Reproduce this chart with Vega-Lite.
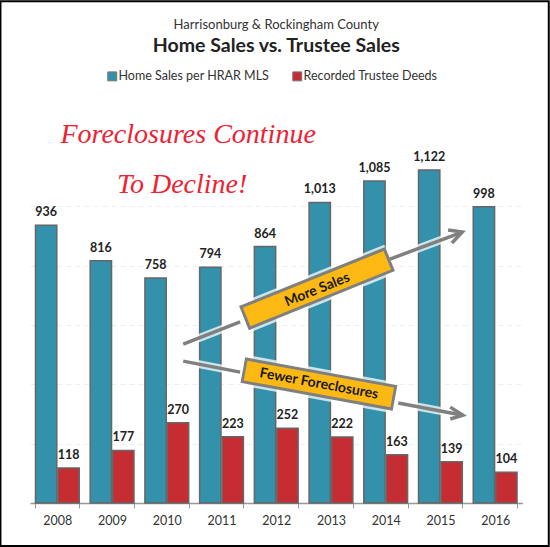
{
  "$schema": "https://vega.github.io/schema/vega-lite/v6.json",
  "width": 492.5,
  "height": 403,
  "autosize": "none",
  "padding": {"left": 30, "top": 100, "right": 27.5, "bottom": 44},
  "background": "white",
  "title": {
    "text": "Harrisonburg & Rockingham County",
    "subtitle": "Home Sales vs. Trustee Sales",
    "anchor": "middle",
    "frame": "group",
    "offset": -55,
    "font": "Lato",
    "fontSize": 13,
    "fontWeight": "normal",
    "color": "#333333",
    "subtitleFont": "Lato",
    "subtitleFontSize": 19.5,
    "subtitleFontWeight": "bold",
    "subtitleColor": "#222222",
    "subtitlePadding": 5
  },
  "config": {
    "view": {"stroke": null},
    "text": {"font": "Lato"},
    "legend": {"labelFont": "Lato"}
  },
  "datasets": {
    "sales": [
      {"year": "2008", "series": "Home Sales per HRAR MLS", "count": 936},
      {"year": "2009", "series": "Home Sales per HRAR MLS", "count": 816},
      {"year": "2010", "series": "Home Sales per HRAR MLS", "count": 758},
      {"year": "2011", "series": "Home Sales per HRAR MLS", "count": 794},
      {"year": "2012", "series": "Home Sales per HRAR MLS", "count": 864},
      {"year": "2013", "series": "Home Sales per HRAR MLS", "count": 1013},
      {"year": "2014", "series": "Home Sales per HRAR MLS", "count": 1085},
      {"year": "2015", "series": "Home Sales per HRAR MLS", "count": 1122},
      {"year": "2016", "series": "Home Sales per HRAR MLS", "count": 998},
      {"year": "2008", "series": "Recorded Trustee Deeds", "count": 118},
      {"year": "2009", "series": "Recorded Trustee Deeds", "count": 177},
      {"year": "2010", "series": "Recorded Trustee Deeds", "count": 270},
      {"year": "2011", "series": "Recorded Trustee Deeds", "count": 223},
      {"year": "2012", "series": "Recorded Trustee Deeds", "count": 252},
      {"year": "2013", "series": "Recorded Trustee Deeds", "count": 222},
      {"year": "2014", "series": "Recorded Trustee Deeds", "count": 163},
      {"year": "2015", "series": "Recorded Trustee Deeds", "count": 139},
      {"year": "2016", "series": "Recorded Trustee Deeds", "count": 104}
    ],
    "arrows": [
      {"seg": "up1", "ord": 1, "xv": 2010.30, "yv": 535},
      {"seg": "up1", "ord": 2, "xv": 2011.34, "yv": 610},
      {"seg": "up2", "ord": 1, "xv": 2014.08, "yv": 822},
      {"seg": "up2", "ord": 2, "xv": 2015.40, "yv": 913},
      {"seg": "up3", "ord": 1, "xv": 2015.14, "yv": 920},
      {"seg": "up3", "ord": 2, "xv": 2015.40, "yv": 913},
      {"seg": "up3", "ord": 3, "xv": 2015.21, "yv": 876},
      {"seg": "dn1", "ord": 1, "xv": 2010.30, "yv": 478},
      {"seg": "dn1", "ord": 2, "xv": 2011.34, "yv": 441},
      {"seg": "dn2", "ord": 1, "xv": 2014.23, "yv": 337},
      {"seg": "dn2", "ord": 2, "xv": 2015.41, "yv": 296},
      {"seg": "dn3", "ord": 1, "xv": 2015.18, "yv": 323},
      {"seg": "dn3", "ord": 2, "xv": 2015.41, "yv": 296},
      {"seg": "dn3", "ord": 3, "xv": 2015.18, "yv": 283}
    ],
    "boxes": [
      {"seg": "more", "ord": 1, "xv": 2011.41, "yv": 623},
      {"seg": "more", "ord": 2, "xv": 2014.08, "yv": 822},
      {"seg": "fewer", "ord": 1, "xv": 2011.39, "yv": 448},
      {"seg": "fewer", "ord": 2, "xv": 2014.17, "yv": 354}
    ],
    "fills": [
      {"seg": "more", "ord": 1, "xv": 2011.46, "yv": 627},
      {"seg": "more", "ord": 2, "xv": 2014.03, "yv": 818},
      {"seg": "fewer", "ord": 1, "xv": 2011.44, "yv": 446},
      {"seg": "fewer", "ord": 2, "xv": 2014.12, "yv": 356}
    ],
    "frame": [
      {"x1": 2006.96, "x2": 2016.98, "y1": -145, "y2": 1691}
    ]
  },
  "layer": [
    {
      "data": {"name": "sales"},
      "encoding": {
        "x": {
          "field": "year",
          "type": "ordinal",
          "title": null,
          "scale": {"paddingInner": 0.2, "paddingOuter": 0.1},
          "axis": {
            "labelAngle": 0,
            "labelFont": "Lato",
            "labelFontSize": 12.5,
            "labelColor": "#333333",
            "labelPadding": 6,
            "domainColor": "#999999",
            "domainWidth": 1.5,
            "tickColor": "#999999",
            "tickSize": 5,
            "tickBand": "extent"
          }
        },
        "xOffset": {"field": "series", "scale": {"paddingInner": 0.05}},
        "y": {
          "field": "count",
          "type": "quantitative",
          "scale": {"domain": [0, 1358], "nice": false},
          "axis": {
            "title": null,
            "labels": false,
            "ticks": false,
            "domain": false,
            "values": [200, 400, 600, 800, 1000],
            "gridColor": "#eeeeee",
            "gridDash": [5, 4]
          }
        }
      },
      "layer": [
        {
          "mark": {"type": "bar", "stroke": "#666666", "strokeWidth": 1.5},
          "encoding": {
            "color": {
              "field": "series",
              "type": "nominal",
              "scale": {"range": ["#3391AB", "#C62D32"]},
              "legend": {
                "title": null,
                "orient": "none",
                "direction": "horizontal",
                "columns": 2,
                "legendX": 76,
                "legendY": -30,
                "symbolType": "square",
                "symbolSize": 80,
                "symbolStrokeColor": "#777777",
                "symbolStrokeWidth": 1,
                "labelFontSize": 12.5,
                "labelColor": "#333333",
                "labelOffset": 0,
                "columnPadding": 20
              }
            }
          }
        },
        {
          "mark": {"type": "text", "baseline": "bottom", "dy": -6, "fontWeight": "bold", "fontSize": 12.5, "color": "#222222"},
          "encoding": {
            "text": {"field": "count", "type": "quantitative", "format": ","}
          }
        }
      ]
    },
    {
      "encoding": {
        "x": {
          "field": "xv",
          "type": "quantitative",
          "scale": {"domain": [2007.5, 2016.5], "nice": false, "zero": false},
          "axis": null
        },
        "y": {"field": "yv", "type": "quantitative"}
      },
      "layer": [
        {
          "data": {"name": "arrows"},
          "mark": {"type": "line", "color": "white", "strokeWidth": 8, "opacity": 0.75, "strokeCap": "butt"},
          "encoding": {"detail": {"field": "seg"}, "order": {"field": "ord"}}
        },
        {
          "data": {"name": "boxes"},
          "mark": {"type": "line", "color": "white", "strokeWidth": 31, "opacity": 0.75, "strokeCap": "butt"},
          "encoding": {"detail": {"field": "seg"}, "order": {"field": "ord"}}
        },
        {
          "data": {"name": "arrows"},
          "mark": {"type": "line", "color": "#808080", "strokeWidth": 3.5, "strokeCap": "butt", "strokeJoin": "miter"},
          "encoding": {"detail": {"field": "seg"}, "order": {"field": "ord"}}
        },
        {
          "data": {"name": "boxes"},
          "mark": {"type": "line", "color": "#7f7f7f", "strokeWidth": 26, "strokeCap": "butt"},
          "encoding": {"detail": {"field": "seg"}, "order": {"field": "ord"}}
        },
        {
          "data": {"name": "fills"},
          "mark": {"type": "line", "color": "#FDB913", "strokeWidth": 20, "strokeCap": "butt"},
          "encoding": {"detail": {"field": "seg"}, "order": {"field": "ord"}}
        },
        {
          "data": {"values": [{"xv": 2012.75, "yv": 718, "label": "More Sales"}]},
          "mark": {"type": "text", "angle": 338, "fontWeight": "bold", "fontSize": 14, "color": "#1a1a1a", "baseline": "middle"},
          "encoding": {"text": {"field": "label"}}
        },
        {
          "data": {"values": [{"xv": 2012.78, "yv": 401, "label": "Fewer Foreclosures"}]},
          "mark": {"type": "text", "angle": 10.4, "fontWeight": "bold", "fontSize": 14, "color": "#1a1a1a", "baseline": "middle"},
          "encoding": {"text": {"field": "label"}}
        },
        {
          "data": {"values": [
            {"xv": 2010.39, "yv": 1240, "label": "Foreclosures Continue"},
            {"xv": 2010.28, "yv": 1071, "label": "To Decline!"}
          ]},
          "mark": {"type": "text", "font": "Liberation Serif", "fontStyle": "italic", "fontSize": 28, "color": "#EE2233", "baseline": "middle"},
          "encoding": {"text": {"field": "label"}}
        },
        {
          "data": {"name": "frame"},
          "mark": {"type": "rect", "fill": null, "stroke": "#000000", "strokeWidth": 2},
          "encoding": {
            "x": {"field": "x1", "type": "quantitative"},
            "x2": {"field": "x2"},
            "y": {"field": "y1", "type": "quantitative"},
            "y2": {"field": "y2"}
          }
        }
      ]
    }
  ],
  "resolve": {"scale": {"x": "independent"}}
}
